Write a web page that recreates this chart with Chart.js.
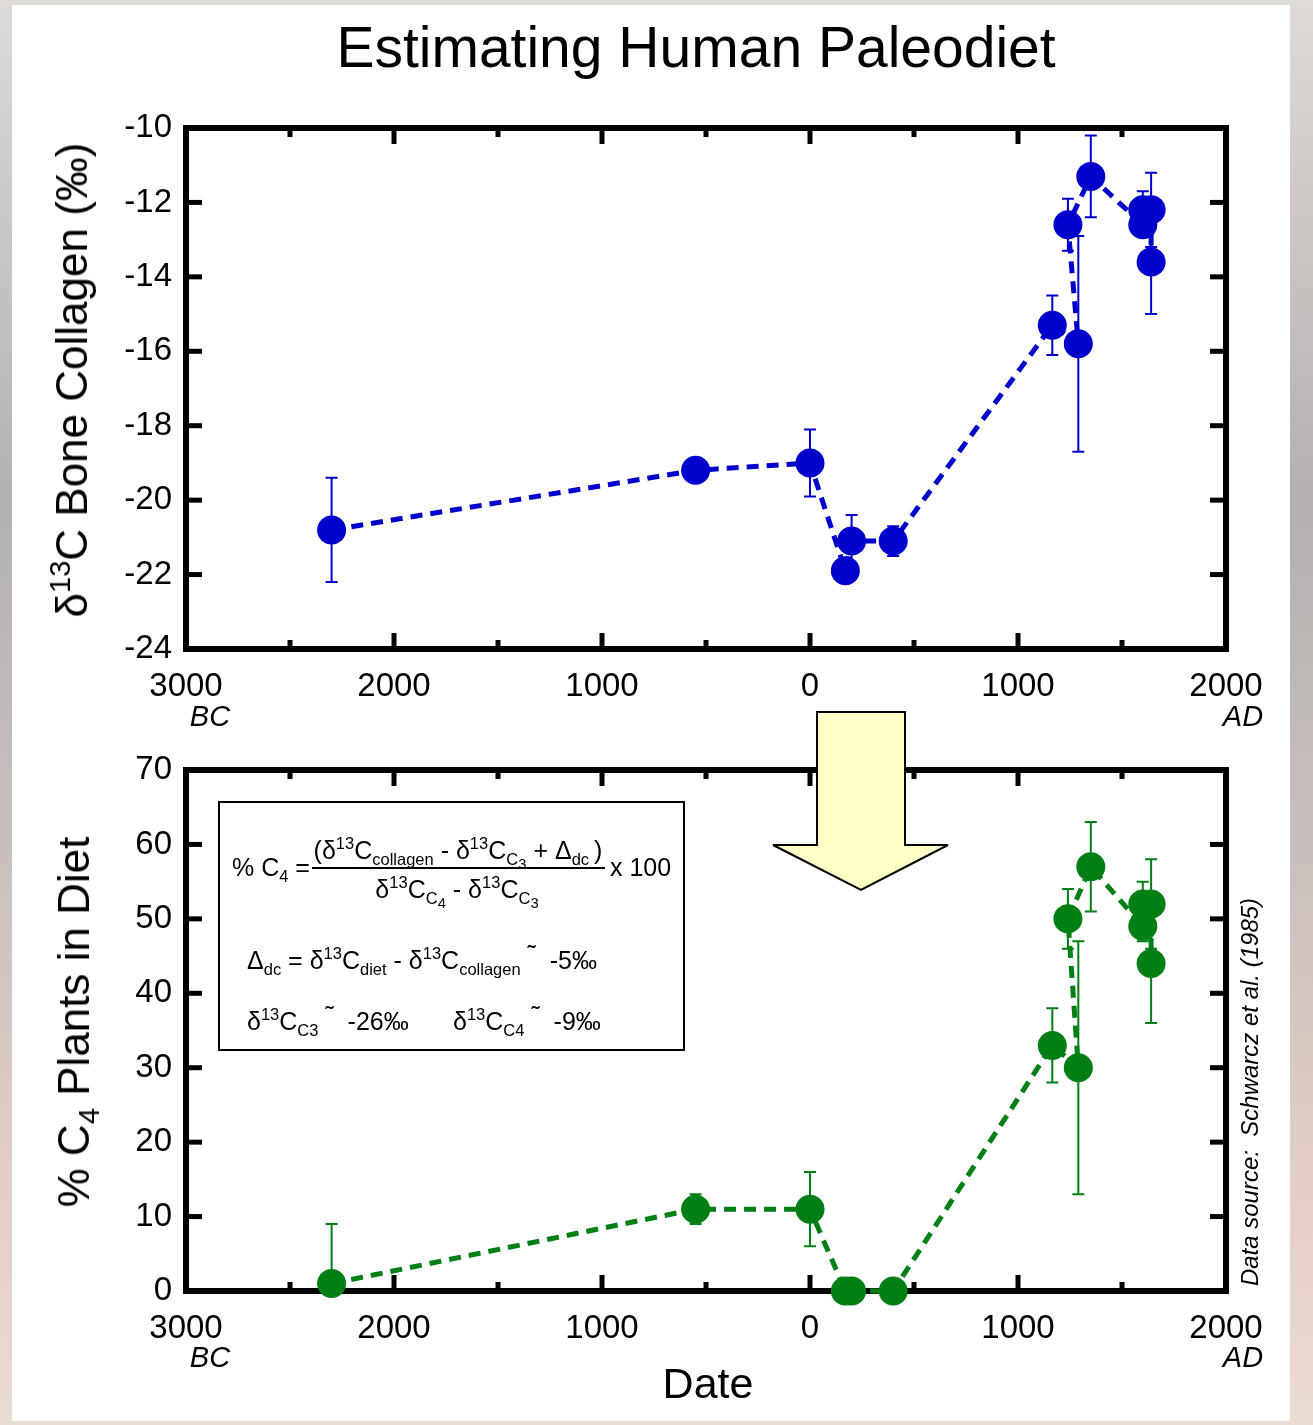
<!DOCTYPE html>
<html>
<head>
<meta charset="utf-8">
<script src="https://cdn.jsdelivr.net/npm/chart.js@4.4.1/dist/chart.umd.min.js"></script>
<style>
  html, body { margin: 0; padding: 0; }
  body {
    width: 1313px; height: 1425px; overflow: hidden; position: relative;
    background: linear-gradient(180deg, #dedad6 0%, #b4b0b0 35%, #c8c0bc 60%, #e6cfc8 85%, #eadcd0 100%);
    font-family: Arial, "Liberation Sans", sans-serif;
  }
  #panel { position: absolute; left: 12px; top: 5px; width: 1278px; height: 1416px; background: #fff; }
  canvas { position: absolute; left: 0; }
  .t { position: absolute; white-space: nowrap; color: #000; line-height: 1; }
  .c { transform: translate(-50%, -50%); }
  .l { transform: translate(0, -50%); }
  .rot { transform: translate(-50%, -50%) rotate(-90deg); }
  .sp { font-size: 0.66em; position: relative; top: -0.6em; }
  .sb { font-size: 0.66em; position: relative; top: 0.35em; }
  .sb .sb { font-size: 0.9em; top: 0.3em; }
  .it { font-style: italic; }
  #box { position: absolute; left: 218px; top: 801px; width: 467px; height: 250px;
         box-sizing: border-box; border: 2px solid #000; background: #fff; }
  .f { font-size: 25px; }
  #frac { position: absolute; left: 312px; top: 867px; width: 293px; height: 2px; background: #000; }
  .tl { position: relative; top: -0.25em; }
</style>
</head>
<body>
<div id="panel"></div>
<canvas id="chart1" width="1313" height="700" style="top:0"></canvas>
<canvas id="chart2" width="1313" height="725" style="top:700px"></canvas>

<div class="t c" style="left:696px; top:47px; font-size:57px;">Estimating Human Paleodiet</div>
<div class="t rot" style="left:72px; top:380px; font-size:44px;">&delta;<span class="sp">13</span>C Bone Collagen (&permil;)</div>
<div class="t rot" style="left:74px; top:1022px; font-size:44px;">% C<span class="sb">4</span> Plants in Diet</div>
<div class="t c it" style="left:210px; top:716px; font-size:29px;">BC</div>
<div class="t c it" style="left:1243px; top:716px; font-size:29px;">AD</div>
<div class="t c it" style="left:210px; top:1357px; font-size:29px;">BC</div>
<div class="t c it" style="left:1243px; top:1357px; font-size:29px;">AD</div>
<div class="t c" style="left:708px; top:1383px; font-size:43px;">Date</div>
<div class="t rot it" style="left:1250px; top:1092px; font-size:24px;">Data source:&nbsp; Schwarcz et al. (1985)</div>

<svg width="1313" height="1425" style="position:absolute; left:0; top:0;">
  <polygon points="817,712 905,712 905,845 948,845 861,890 773,845 817,845"
           fill="#ffffc6" stroke="#000" stroke-width="2"/>
</svg>

<div id="box"></div>
<div class="t f l" style="left:232px; top:867px;">% C<span class="sb">4</span> =</div>
<div class="t f c" style="left:458px; top:850px;">(&delta;<span class="sp">13</span>C<span class="sb">collagen</span> - &delta;<span class="sp">13</span>C<span class="sb">C<span class="sb">3</span></span> + &Delta;<span class="sb">dc</span>&thinsp;)</div>
<div id="frac"></div>
<div class="t f c" style="left:457px; top:889px;">&delta;<span class="sp">13</span>C<span class="sb">C<span class="sb">4</span></span> - &delta;<span class="sp">13</span>C<span class="sb">C<span class="sb">3</span></span></div>
<div class="t f l" style="left:610px; top:867px;">x 100</div>
<div class="t f l" style="left:247px; top:960px;">&Delta;<span class="sb">dc</span> = &delta;<span class="sp">13</span>C<span class="sb">diet</span> - &delta;<span class="sp">13</span>C<span class="sb">collagen</span> <span class="tl">&#732;</span>&nbsp; -5&permil;</div>
<div class="t f l" style="left:247px; top:1021px;">&delta;<span class="sp">13</span>C<span class="sb">C3</span> <span class="tl">&#732;</span>&nbsp; -26&permil;</div>
<div class="t f l" style="left:453px; top:1021px;">&delta;<span class="sp">13</span>C<span class="sb">C4</span> <span class="tl">&#732;</span>&nbsp; -9&permil;</div>

<script>
// dates (negative = BC), in the order the dashed line joins them
const years = [-2300, -550, 0, 170, 200, 400, 1165, 1290, 1240, 1350, 1600, 1600, 1640, 1640];
// delta 13C of bone collagen (permil) and its error
const d13C = [-20.8, -19.2, -19.0, -21.9, -21.1, -21.1, -15.3, -15.8, -12.6, -11.3, -12.6, -12.2, -12.2, -13.6];
const d13CErr = [1.4, 0.3, 0.9, 0.3, 0.7, 0.4, 0.8, 2.9, 0.7, 1.1, 0.3, 0.5, 1.0, 1.4];
// % C4 plants in diet and its error
const pctC4 = [1, 11, 11, 0, 0, 0, 33, 30, 50, 57, 49, 52, 52, 44];
const pctC4Err = [8, 2, 5, 0, 0, 0, 5, 17, 4, 6, 2, 3, 6, 8];

const FONT = "Arial, 'Liberation Sans', sans-serif";

// thick box round the plot with inward ticks on all four sides
const frame = {
  id: 'frame',
  beforeDatasetsDraw(chart, args, opts) {
    const { ctx, chartArea: a, scales: { x, y } } = chart;
    ctx.save();
    ctx.fillStyle = '#000';
    for (let v = x.min; v <= x.max; v += 500) {
      const px = x.getPixelForValue(v);
      const len = v % 1000 === 0 ? 16 : 9;
      ctx.fillRect(px - 2.5, a.bottom - len, 5, len);
      ctx.fillRect(px - 2.5, a.top, 5, len);
    }
    for (let v = y.min; v <= y.max; v += opts.step) {
      const py = y.getPixelForValue(v);
      ctx.fillRect(a.left, py - 2.5, 16, 5);
      ctx.fillRect(a.right - 16, py - 2.5, 16, 5);
    }
    ctx.strokeStyle = '#000';
    ctx.lineWidth = 6;
    ctx.strokeRect(a.left, a.top, a.width, a.height);
    ctx.restore();
  }
};

const errorBars = {
  id: 'errorBars',
  beforeDatasetsDraw(chart) {
    const { ctx, chartArea: a, scales: { y } } = chart;
    ctx.save();
    ctx.beginPath();
    ctx.rect(a.left, a.top, a.width, a.height);
    ctx.clip();
    chart.data.datasets.forEach((ds, i) => {
      const meta = chart.getDatasetMeta(i);
      ctx.strokeStyle = ds.borderColor;
      ctx.lineWidth = 2;
      meta.data.forEach((pt, j) => {
        const e = ds.errors[j];
        if (!e) return;
        const v = ds.data[j].y;
        const y1 = y.getPixelForValue(v + e);
        const y2 = y.getPixelForValue(v - e);
        ctx.beginPath();
        ctx.moveTo(pt.x, y1); ctx.lineTo(pt.x, y2);
        ctx.moveTo(pt.x - 6, y1); ctx.lineTo(pt.x + 6, y1);
        ctx.moveTo(pt.x - 6, y2); ctx.lineTo(pt.x + 6, y2);
        ctx.stroke();
      });
    });
    ctx.restore();
  }
};

function makeChart(id, values, errors, color, yMin, yMax, yStep, topPad, xHeight) {
  const ctx = document.getElementById(id).getContext('2d');
  return new Chart(ctx, {
    type: 'scatter',
    data: {
      datasets: [{
        data: years.map((x, i) => ({ x: x, y: values[i] })),
        errors: errors,
        showLine: true,
        borderColor: color,
        borderWidth: 5,
        borderDash: [12, 8],
        borderCapStyle: 'butt',
        tension: 0,
        pointRadius: 14.5,
        pointHoverRadius: 14.5,
        pointBackgroundColor: color,
        pointBorderWidth: 0,
        clip: false
      }]
    },
    options: {
      responsive: false,
      animation: false,
      devicePixelRatio: 1,
      layout: { padding: { left: 0, right: 87, top: topPad, bottom: 0 } },
      plugins: {
        legend: { display: false },
        tooltip: { enabled: false },
        frame: { step: yStep }
      },
      scales: {
        x: {
          type: 'linear', min: -3000, max: 2000,
          grid: { display: false, drawTicks: false }, border: { display: false },
          ticks: {
            stepSize: 1000, autoSkip: false, maxRotation: 0, padding: 18,
            color: '#000', font: { family: FONT, size: 33 },
            callback: v => String(Math.abs(v))
          },
          afterFit: s => { s.height = xHeight; }
        },
        y: {
          min: yMin, max: yMax,
          grid: { display: false, drawTicks: false }, border: { display: false },
          ticks: {
            stepSize: yStep, padding: 14,
            color: '#000', font: { family: FONT, size: 33 }
          },
          afterFit: s => { s.width = 186; }
        }
      }
    },
    plugins: [frame, errorBars]
  });
}

makeChart('chart1', d13C, d13CErr, '#0000cc', -24, -10, 2, 128, 700 - 649);
makeChart('chart2', pctC4, pctC4Err, '#007f14', 0, 70, 10, 70, 725 - (1291 - 700));
</script>
</body>
</html>
